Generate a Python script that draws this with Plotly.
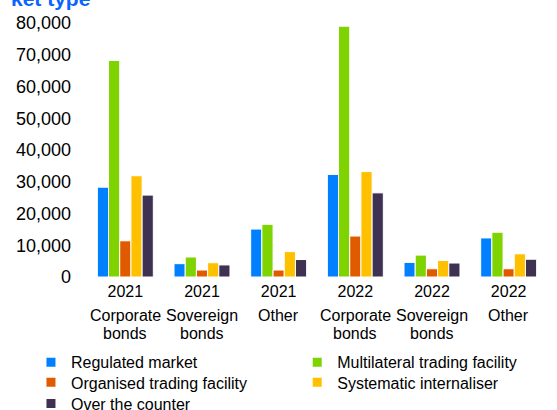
import plotly.graph_objects as go

years = ["2021", "2021", "2021", "2022", "2022", "2022"]
category_line1 = ["Corporate", "Sovereign", "Other", "Corporate", "Sovereign", "Other"]
category_line2 = ["bonds", "bonds", "", "bonds", "bonds", ""]
series_names = ["Regulated market", "Multilateral trading facility",
                "Organised trading facility", "Systematic internaliser",
                "Over the counter"]
regulated_market = [28300, 4200, 15100, 32300, 4600, 12300]
multilateral_tf = [68200, 6300, 16600, 79000, 6900, 14100]
organised_tf = [11400, 2200, 2200, 12900, 2600, 2600]
systematic_int = [31900, 4500, 8000, 33200, 5200, 7300]
over_the_counter = [25800, 3800, 5500, 26500, 4400, 5600]
y_ticks = [0, 10000, 20000, 30000, 40000, 50000, 60000, 70000, 80000]
y_tick_labels = ["0", "10,000", "20,000", "30,000", "40,000", "50,000",
                 "60,000", "70,000", "80,000"]
title_text = "ket type"

colors = ["#0080FF", "#7ED300", "#E05A00", "#FFC000", "#3F3151"]
values = [regulated_market, multilateral_tf, organised_tf, systematic_int, over_the_counter]
x_idx = list(range(len(years)))

# legend placement (paper coords): column, row
legend_pos = [(-0.1218, -0.336), (0.457, -0.336), (-0.1218, -0.415), (0.457, -0.415), (-0.1218, -0.498)]

fig = go.Figure()
for name, vals, col in zip(series_names, values, colors):
    fig.add_trace(go.Bar(x=x_idx, y=vals, name=name, showlegend=False,
                         marker=dict(color=col, line=dict(color="white", width=1))))
legend_layout = {}
for k, (name, col) in enumerate(zip(series_names, colors)):
    lname = "legend" if k == 0 else "legend%d" % (k + 1)
    fig.add_trace(go.Scatter(x=[None], y=[None], mode="markers", name=name, legend=lname,
                             marker=dict(symbol="square", size=9, color=col)))
    lx, ly = legend_pos[k]
    legend_layout[lname] = dict(x=lx, y=ly, xanchor="left", yanchor="middle",
                                font=dict(size=16), itemwidth=30,
                                bgcolor="rgba(0,0,0,0)")

annotations = []
for i, (l1, l2) in enumerate(zip(category_line1, category_line2)):
    annotations.append(dict(x=i, y=-0.1525, xref="x", yref="paper", text=l1,
                            showarrow=False, yanchor="middle", xanchor="center",
                            font=dict(size=16, color="#000000")))
    if l2:
        annotations.append(dict(x=i, y=-0.222, xref="x", yref="paper", text=l2,
                                showarrow=False, yanchor="middle", xanchor="center",
                                font=dict(size=16, color="#000000")))
annotations.append(dict(x=-0.1697, y=1.0983, xref="paper", yref="paper", text="<b>" + title_text + "</b>",
                        showarrow=False, xanchor="left", yanchor="middle",
                        font=dict(size=21, color="#0A64FF")))

fig.update_layout(
    width=557, height=410,
    margin=dict(l=87, r=10.4, t=23.3, b=133, autoexpand=False),
    paper_bgcolor="white", plot_bgcolor="white",
    font=dict(family="Liberation Sans, Arial, sans-serif", color="#000000"),
    barmode="group", bargap=0.27, bargroupgap=0,
    xaxis=dict(tickmode="array", tickvals=x_idx, ticktext=years, range=[-0.5, 5.5],
               showgrid=False, zeroline=False, showline=False, ticks="",
               tickfont=dict(size=16), ticklabelstandoff=3),
    yaxis=dict(tickmode="array", tickvals=y_ticks, ticktext=y_tick_labels,
               range=[0, 80000], showgrid=False, zeroline=False, showline=False,
               ticks="", tickfont=dict(size=18), ticklabelstandoff=15),
    annotations=annotations,
    **legend_layout,
)
fig.write_html("out.html", config={"displayModeBar": False},
               post_script="document.body.style.margin='0px';")
